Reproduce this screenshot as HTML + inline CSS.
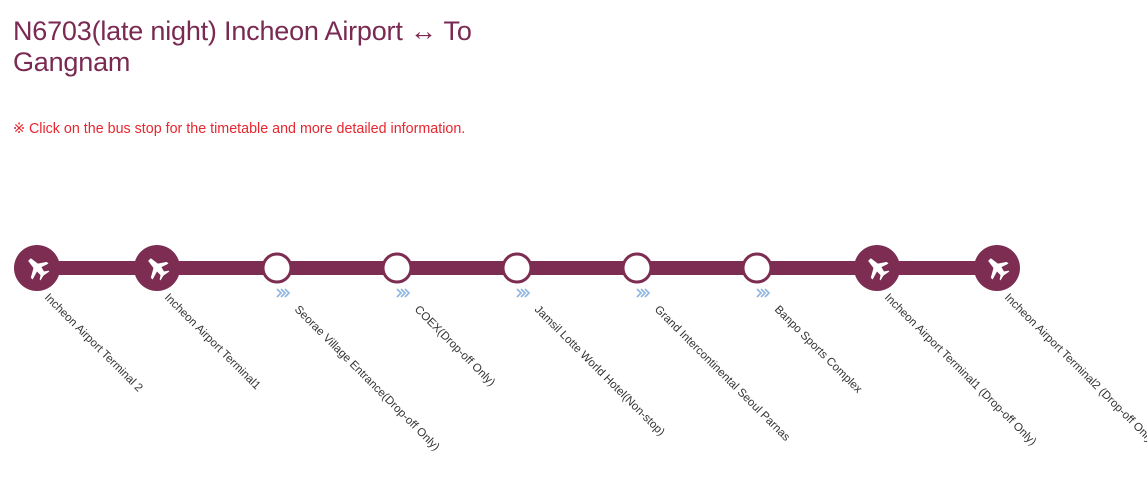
<!DOCTYPE html>
<html><head><meta charset="utf-8"><style>
body{margin:0;background:#fff;width:1147px;height:494px;overflow:hidden;font-family:"Liberation Sans",sans-serif;}
h1{position:absolute;left:13px;top:16px;margin:0;font-weight:normal;font-size:27px;line-height:31px;color:#7a2a52;letter-spacing:-0.2px}
.note{position:absolute;left:13px;top:121px;font-size:14.3px;color:#e8262f;}
</style></head><body>
<h1>N6703(late night) Incheon Airport ↔ To<br>Gangnam</h1>
<div class="note">※ Click on the bus stop for the timetable and more detailed information.</div>
<svg width="1147" height="494" style="position:absolute;left:0;top:0">
<defs>
<g id="plane" fill="#fff"><path d="M-1,-9 L2,-9 L3,-2 L9,2 L9,4 L3,2 L2,6 L5,8 L5,9 L0,8 L-1,8 L-5,9 L-5,8 L-2,6 L-2,2 L-9,4 L-9,2 L-2,-2 Z" transform="rotate(-45) scale(1.25)"/></g>
<g id="chev" fill="none" stroke="#8fb5df" stroke-width="1.6"><path d="M0,0 l4,4 l-4,4 M4,0 l4,4 l-4,4 M8,0 l4,4 l-4,4"/></g>
</defs>
<rect x="37" y="261" width="960" height="14" fill="#7d2d51"/>
<g fill="#7d2d51">
<circle cx="37" cy="268" r="23"/><circle cx="157" cy="268" r="23"/>
<circle cx="877" cy="268" r="23"/><circle cx="997" cy="268" r="23"/>
</g>
<use href="#plane" x="37" y="268"/><use href="#plane" x="157" y="268"/>
<use href="#plane" x="877" y="268"/><use href="#plane" x="997" y="268"/>
<g fill="#fff" stroke="#7d2d51" stroke-width="3">
<circle cx="277" cy="268" r="14"/><circle cx="397" cy="268" r="14"/><circle cx="517" cy="268" r="14"/><circle cx="637" cy="268" r="14"/><circle cx="757" cy="268" r="14"/>
</g>
<use href="#chev" x="277" y="289"/><use href="#chev" x="397" y="289"/><use href="#chev" x="517" y="289"/><use href="#chev" x="637" y="289"/><use href="#chev" x="757" y="289"/>
<g font-family="Liberation Sans, sans-serif" font-size="11.5" fill="#333">
<text transform="translate(44,298) rotate(45)">Incheon Airport Terminal 2</text>
<text transform="translate(164,298) rotate(45)">Incheon Airport Terminal1</text>
<text transform="translate(294,310) rotate(45)">Seorae Village Entrance(Drop-off Only)</text>
<text transform="translate(414,310) rotate(45)">COEX(Drop-off Only)</text>
<text transform="translate(534,310) rotate(45)">Jamsil Lotte World Hotel(Non-stop)</text>
<text transform="translate(654,310) rotate(45)">Grand Intercontinental Seoul Parnas</text>
<text transform="translate(774,310) rotate(45)">Banpo Sports Complex</text>
<text transform="translate(884,298) rotate(45)">Incheon Airport Terminal1 (Drop-off Only)</text>
<text transform="translate(1004,298) rotate(45)">Incheon Airport Terminal2 (Drop-off Only)</text>
</g>
</svg>
</body></html>
